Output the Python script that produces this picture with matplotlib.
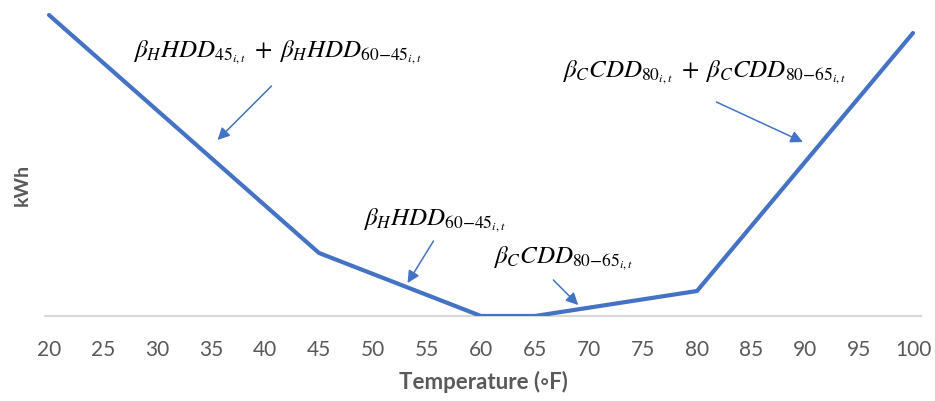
import matplotlib
matplotlib.use("Agg")
import matplotlib.pyplot as plt

# temperature breakpoints and the stylised load curve (arbitrary kWh units)
temps = [20, 45, 60, 65, 80, 100]
kwh = [30.1, 6.3, 0.0, 0.0, 2.5, 28.3]
tick_temps = list(range(20, 101, 5))

# labels for each piece of the curve: (text, text pos, arrow tail, arrow head)
labels = [
    (r"$\beta_H HDD_{45_{i,t}}\;+\;\beta_H HDD_{60\mathrm{-}45_{i,t}}$", (27.8, 25.8), (40.6, 23.0), (35.6, 17.6)),
    (r"$\beta_C CDD_{80_{i,t}}\;+\;\beta_C CDD_{80\mathrm{-}65_{i,t}}$", (67.5, 23.8), (81.8, 21.4), (89.8, 17.4)),
    (r"$\beta_H HDD_{60\mathrm{-}45_{i,t}}$", (49.1, 9.0), (55.6, 7.5), (53.2, 3.3)),
    (r"$\beta_C CDD_{80\mathrm{-}65_{i,t}}$", (61.1, 5.2), (66.7, 3.6), (69.0, 1.1)),
]

plt.rcParams['mathtext.fontset'] = 'stix'
blue = '#4472C4'
grey = '#595959'
ui_font = ['Lato', 'DejaVu Sans']

fig = plt.figure(figsize=(9.35, 4.01), dpi=100)
ax = fig.add_axes([45 / 935, 85 / 401, 876 / 935, 311 / 401])

ax.plot(temps, kwh, color=blue, lw=3.0, solid_capstyle='round', solid_joinstyle='miter')

for text, pos, tail, head in labels:
    ax.text(pos[0], pos[1], text, fontsize=18, ha='left', va='baseline', color='black')
    ax.annotate('', xy=head, xytext=tail,
                arrowprops=dict(arrowstyle='-|>', color=blue, lw=1.1,
                                mutation_scale=18, shrinkA=0, shrinkB=0))

ax.set_xlim(20 - 4 / 10.8, 100 + 8 / 10.8)
ax.set_ylim(0, 31.1)
ax.set_xticks(tick_temps)
ax.set_xticklabels([str(t) for t in tick_temps], family=ui_font, fontsize=15, color=grey)
ax.tick_params(axis='x', length=0, pad=17)
ax.set_yticks([])

for side in ['top', 'right', 'left']:
    ax.spines[side].set_visible(False)
ax.spines['bottom'].set_color('#D9D9D9')
ax.spines['bottom'].set_linewidth(1.5)
ax.spines['bottom'].set_zorder(0)

ax.set_xlabel('Temperature (◦F)', family=ui_font, fontsize=16, fontweight='bold',
              color=grey, labelpad=8)
fig.text(22 / 935, 1 - 185 / 401, 'kWh', rotation=90, ha='center', va='center',
         family=ui_font, fontsize=14, fontweight='bold', color=grey)

fig.savefig('out.png', dpi=100, facecolor='white')
